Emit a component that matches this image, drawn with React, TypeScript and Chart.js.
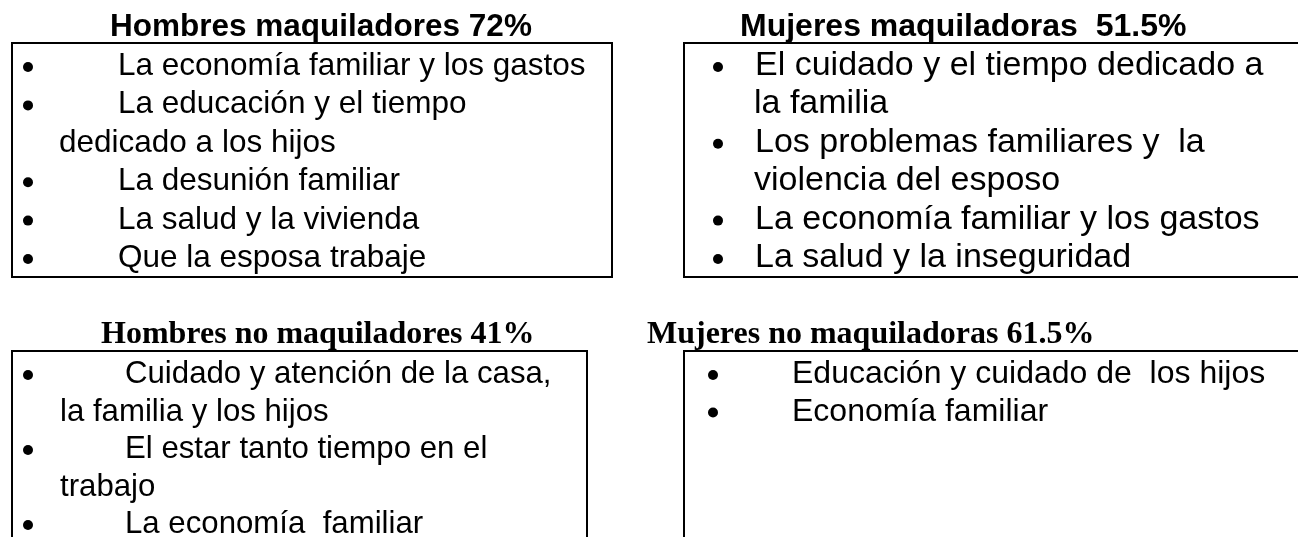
import React, { useEffect, useRef } from "react";
import { Chart, registerables } from "chart.js";

Chart.register(...registerables);

// ---- Data ----
const panelTitles = [
  "Hombres maquiladores 72%",
  "Mujeres maquiladoras  51.5%",
  "Hombres no maquiladores 41%",
  "Mujeres no maquiladoras 61.5%",
];

const hombresMaquiladores = [
  ["La economía familiar y los gastos"],
  ["La educación y el tiempo", "dedicado a los hijos"],
  ["La desunión familiar"],
  ["La salud y la vivienda"],
  ["Que la esposa trabaje"],
];

const mujeresMaquiladoras = [
  ["El cuidado y el tiempo dedicado a", "la familia"],
  ["Los problemas familiares y  la", "violencia del esposo"],
  ["La economía familiar y los gastos"],
  ["La salud y la inseguridad"],
];

const hombresNoMaquiladores = [
  ["Cuidado y atención de la casa,", "la familia y los hijos"],
  ["El estar tanto tiempo en el", "trabajo"],
  ["La economía  familiar"],
];

const mujeresNoMaquiladoras = [
  ["Educación y cuidado de  los hijos"],
  ["Economía familiar"],
];

const panelItems = [
  hombresMaquiladores,
  mujeresMaquiladoras,
  hombresNoMaquiladores,
  mujeresNoMaquiladoras,
];

// ---- Layout / style (page units, mapped through the chart scales) ----
const SANS = '"Liberation Sans", Arial, sans-serif';
const SERIF = '"Liberation Serif", "Times New Roman", serif';

const layout = [
  { titleX: 110, titleY: 36, titleFont: `bold 31.5px ${SANS}`, box: [12, 43, 612, 277], bulletX: 28, textX: 118, contX: 59, firstBase: 75, step: 38.4, font: `31.5px ${SANS}` },
  { titleX: 740, titleY: 36, titleFont: `bold 32px ${SANS}`, box: [684, 43, 1310, 277], bulletX: 718, textX: 755, contX: 754, firstBase: 75, step: 38.4, font: `34px ${SANS}` },
  { titleX: 101, titleY: 343, titleFont: `bold 32px ${SERIF}`, box: [12, 351, 587, 560], bulletX: 28, textX: 125, contX: 60, firstBase: 383, step: 37.5, font: `31.2px ${SANS}` },
  { titleX: 647, titleY: 343, titleFont: `bold 32px ${SERIF}`, box: [684, 351, 1310, 560], bulletX: 713, textX: 792, contX: 792, firstBase: 383, step: 37.5, font: `32px ${SANS}` },
];

const panelsPlugin = {
  id: "panels",
  afterDraw(chart: any) {
    const ctx = chart.ctx as CanvasRenderingContext2D;
    const xs = chart.scales.x;
    const ys = chart.scales.y;
    const px = (v: number) => xs.getPixelForValue(v);
    const py = (v: number) => ys.getPixelForValue(v);
    ctx.save();
    ctx.fillStyle = "#ffffff";
    ctx.fillRect(0, 0, chart.width, chart.height);
    ctx.fillStyle = "#000000";
    ctx.strokeStyle = "#000000";
    ctx.textBaseline = "alphabetic";
    ctx.textAlign = "left";
    layout.forEach((L, i) => {
      // title
      ctx.font = L.titleFont;
      ctx.fillText(panelTitles[i], px(L.titleX), py(L.titleY));
      // box
      const [x0, y0, x1, y1] = L.box;
      ctx.lineWidth = 2;
      ctx.strokeRect(px(x0), py(y0), px(x1) - px(x0), py(y1) - py(y0));
      // items
      ctx.font = L.font;
      let line = 0;
      panelItems[i].forEach((item) => {
        item.forEach((txt, k) => {
          const base = L.firstBase + line * L.step;
          if (k === 0) {
            ctx.beginPath();
            ctx.arc(px(L.bulletX), py(base - 8), 5, 0, Math.PI * 2);
            ctx.fill();
            ctx.fillText(txt, px(L.textX), py(base));
          } else {
            ctx.fillText(txt, px(L.contX), py(base));
          }
          line++;
        });
      });
    });
    ctx.restore();
  },
};

export default function App() {
  const ref = useRef<HTMLCanvasElement | null>(null);
  useEffect(() => {
    if (!ref.current) return;
    const chart = new Chart(ref.current, {
      type: "scatter",
      data: { datasets: [{ data: [], showLine: false }] },
      options: {
        animation: false,
        responsive: false,
        devicePixelRatio: 1,
        layout: { padding: 0 },
        plugins: { legend: { display: false }, tooltip: { enabled: false } },
        scales: {
          x: { type: "linear", min: 0, max: 1298, display: false },
          y: { type: "linear", min: 0, max: 537, reverse: true, display: false },
        },
      },
      plugins: [panelsPlugin],
    });
    return () => chart.destroy();
  }, []);
  return (
    <div style={{ position: "fixed", left: 0, top: 0, width: 1298, height: 537, background: "#fff" }}>
      <canvas ref={ref} width={1298} height={537} style={{ display: "block", width: 1298, height: 537 }} />
    </div>
  );
}
